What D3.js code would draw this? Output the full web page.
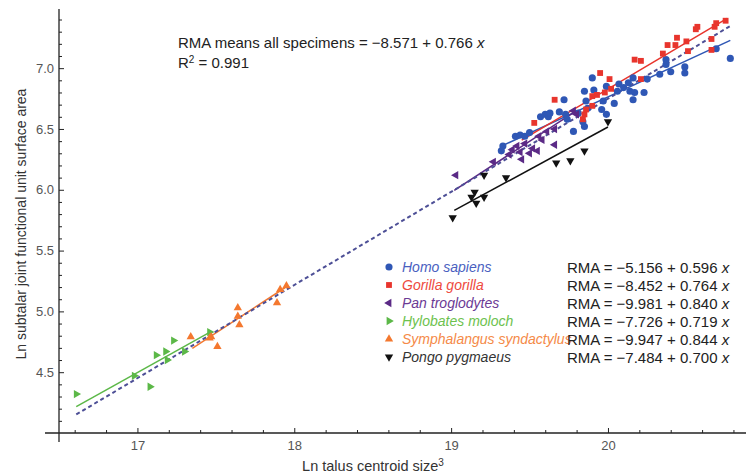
<!DOCTYPE html>
<html>
<head>
<meta charset="utf-8">
<script src="https://cdn.jsdelivr.net/npm/d3@7"></script>
<style>
  body { margin: 0; background: #fff; }
  text { font-family: Arial, "Liberation Sans", sans-serif; }
</style>
</head>
<body>
<div id="chart"></div>
<script>
// species data: [ln talus centroid size^3, ln subtalar surface area]
var homoPts = [
  [19.32,6.32],[19.33,6.36],[19.41,6.44],[19.44,6.45],[19.47,6.44],[19.50,6.47],
  [19.57,6.60],[19.60,6.62],[19.62,6.60],[19.63,6.63],[19.69,6.64],[19.72,6.74],
  [19.73,6.62],[19.74,6.58],[19.78,6.48],[19.81,6.63],[19.84,6.56],[19.85,6.52],
  [19.85,6.81],[19.86,6.73],[19.87,6.67],[19.90,6.92],[19.91,6.82],[19.96,6.66],
  [19.97,6.73],[19.99,6.85],[19.99,6.62],[20.04,6.71],[20.06,6.81],[20.07,6.87],
  [20.10,6.84],[20.13,6.88],[20.16,6.92],[20.14,6.81],[20.17,6.80],[20.16,6.74],
  [20.23,6.80],[20.25,6.91],[20.33,6.95],[20.37,7.07],[20.37,7.03],[20.40,6.97],
  [20.49,7.01],[20.49,6.96],[20.69,7.16],[20.78,7.08]
];
var gorillaPts = [
  [19.53,6.55],[19.66,6.74],[19.84,6.58],[19.85,6.62],[19.86,6.66],[19.90,6.69],
  [19.90,6.77],[19.93,6.78],[19.95,6.96],[19.98,6.80],[20.01,6.91],[20.02,6.83],
  [20.17,7.07],[20.21,7.06],[20.21,6.91],[20.35,7.12],[20.38,7.19],[20.43,7.19],
  [20.44,7.25],[20.50,7.22],[20.51,7.14],[20.56,7.32],[20.57,7.34],[20.66,7.24],
  [20.66,7.15],[20.68,7.34],[20.69,7.37],[20.75,7.39]
];
var panPts = [
  [19.03,6.12],[19.27,6.23],[19.37,6.29],[19.39,6.33],[19.42,6.36],[19.44,6.31],
  [19.45,6.25],[19.47,6.38],[19.50,6.30],[19.52,6.34],[19.55,6.32],[19.56,6.44],
  [19.58,6.41],[19.61,6.48],[19.66,6.50],[19.66,6.37],[19.78,6.65],[19.80,6.62]
];
var hylobatesPts = [
  [16.61,4.32],[16.98,4.47],[17.08,4.38],[17.12,4.64],[17.18,4.67],[17.19,4.60],
  [17.23,4.76],[17.30,4.67],[17.46,4.83]
];
var symphPts = [
  [17.34,4.79],[17.46,4.78],[17.47,4.79],[17.51,4.71],[17.64,5.03],[17.64,4.96],
  [17.65,4.89],[17.89,5.07],[17.91,5.18],[17.95,5.21]
];
var pongoPts = [
  [19.01,5.77],[19.13,5.94],[19.15,5.98],[19.16,5.89],[19.21,5.94],[19.21,6.12],
  [19.35,6.10],[19.67,6.22],[19.76,6.24],[19.85,6.32],[20.00,6.56]
];

var speciesNames = ["Homo sapiens","Gorilla gorilla","Pan troglodytes","Hylobates moloch","Symphalangus syndactylus","Pongo pygmaeus"];
// RMA fits: intercept, slope, x range
var rmaIntercept = [-5.156, -8.452, -9.981, -7.726, -9.947, -7.484];
var rmaSlope = [0.596, 0.764, 0.840, 0.719, 0.844, 0.700];
var rmaRange = [[19.32,20.78],[19.45,20.76],[19.02,19.8],[16.61,17.46],[17.35,17.94],[19.02,20.0]];
var allFit = {a: -8.571, b: 0.766, range: [16.61, 20.78]};
var r2 = "0.991";

var xMajor = [17, 18, 19, 20];
var yMajor = [4.5, 5.0, 5.5, 6.0, 6.5, 7.0];

var series = [homoPts, gorillaPts, panPts, hylobatesPts, symphPts, pongoPts];
var colors = ["#2f57b5", "#e8352d", "#5b2a86", "#5cb848", "#f4782f", "#111111"];
var labelColors = ["#4a5fbf", "#ee4a3e", "#6b3a95", "#6dc24e", "#f58a48", "#333333"];
var symbols = [d3.symbolCircle, d3.symbolSquare, d3.symbolTriangle, d3.symbolTriangle, d3.symbolTriangle, d3.symbolTriangle];
var rotations = [0, 0, -90, 90, 0, 180];
var symSizes = [40, 34, 30, 30, 30, 30];

var W = 746, H = 475;
var svg = d3.select("#chart").append("svg").attr("width", W).attr("height", H);

var x = d3.scaleLinear().domain([16.5, 20.88]).range([59, 746]);
var y = d3.scaleLinear().domain([4.0, 7.47]).range([433, 11]);

// axes
var xMinor = d3.range(16.6, 20.85, 0.2).filter(function(v){ return Math.abs(v - Math.round(v)) > 0.01; });
var yMinor = d3.range(4.1, 7.45, 0.1).filter(function(v){ return Math.abs(v*2 - Math.round(v*2)) > 0.01; });

var xAxisG = svg.append("g").attr("transform", "translate(0," + y(4.0) + ")");
xAxisG.call(d3.axisBottom(x).tickValues(xMajor).tickSize(-5).tickPadding(8).tickFormat(d3.format("d")));
xAxisG.append("g").call(d3.axisBottom(x).tickValues(xMinor).tickSize(-3).tickFormat(""));

var yAxisG = svg.append("g").attr("transform", "translate(" + x(16.5) + ",0)");
yAxisG.call(d3.axisLeft(y).tickValues(yMajor).tickSize(-5).tickPadding(5).tickFormat(d3.format(".1f")));
yAxisG.append("g").call(d3.axisLeft(y).tickValues(yMinor).tickSize(-3).tickFormat(""));

svg.selectAll(".domain").remove();
svg.selectAll(".tick line").attr("stroke", "#222").attr("stroke-width", 1);
svg.selectAll(".tick text").attr("fill", "#555").attr("font-size", 13).attr("font-family", "Arial, sans-serif");

svg.append("line").attr("x1", 45).attr("x2", 746).attr("y1", y(4.0)).attr("y2", y(4.0))
  .attr("stroke", "#222").attr("stroke-width", 1.3);
svg.append("line").attr("x1", x(16.5)).attr("x2", x(16.5)).attr("y1", 9).attr("y2", 442)
  .attr("stroke", "#222").attr("stroke-width", 1.3);

// axis labels
svg.append("text").attr("x", 373).attr("y", 471).attr("text-anchor", "middle")
  .attr("font-size", 14.5).attr("fill", "#333")
  .html("Ln talus centroid size<tspan dy='-5' font-size='10'>3</tspan>");
svg.append("text").attr("transform", "translate(26,224) rotate(-90)").attr("text-anchor", "middle")
  .attr("font-size", 14).attr("fill", "#333")
  .text("Ln subtalar joint functional unit surface area");

// fitted lines
var line = d3.line().x(function(d){ return x(d[0]); }).y(function(d){ return y(d[1]); });

series.forEach(function(s, i){
  var r = rmaRange[i];
  var pts = r.map(function(v){ return [v, rmaIntercept[i] + rmaSlope[i] * v]; });
  svg.append("path").datum(pts).attr("d", line).attr("fill", "none")
    .attr("stroke", colors[i]).attr("stroke-width", 1.5);
});

var allPts = allFit.range.map(function(v){ return [v, allFit.a + allFit.b * v]; });
svg.append("path").datum(allPts).attr("d", line).attr("fill", "none")
  .attr("stroke", "#4d4f96").attr("stroke-width", 2).attr("stroke-dasharray", "4,3");

// points
series.forEach(function(s, i){
  var sym = d3.symbol().type(symbols[i]).size(symSizes[i]);
  svg.append("g").selectAll("path").data(s).enter().append("path")
    .attr("d", sym)
    .attr("fill", colors[i])
    .attr("transform", function(d){ return "translate(" + x(d[0]) + "," + y(d[1]) + ") rotate(" + rotations[i] + ")"; });
});

// annotation
svg.append("text").attr("x", 178).attr("y", 48).attr("font-size", 15).attr("fill", "#222")
  .html("RMA means all specimens = \u22128.571 + 0.766 <tspan font-style='italic'>x</tspan>");
svg.append("text").attr("x", 178).attr("y", 68).attr("font-size", 15).attr("fill", "#222")
  .html("R<tspan dy='-5' font-size='10'>2</tspan><tspan dy='5'> = " + r2 + "</tspan>");

// legend
var legend = svg.append("g");
speciesNames.forEach(function(name, i){
  var ly = 267 + i * 18;
  var sym = d3.symbol().type(symbols[i]).size(symSizes[i]);
  legend.append("path").attr("d", sym).attr("fill", colors[i])
    .attr("transform", "translate(389," + ly + ") rotate(" + rotations[i] + ")");
  legend.append("text").attr("x", 402).attr("y", ly + 5).attr("font-size", 14)
    .attr("font-style", "italic").attr("fill", labelColors[i]).text(name);
  var a = rmaIntercept[i], b = rmaSlope[i];
  legend.append("text").attr("x", 567).attr("y", ly + 5.5).attr("font-size", 15).attr("fill", "#222")
    .html("RMA = " + (a < 0 ? "\u2212" : "") + Math.abs(a).toFixed(3) + " + " + b.toFixed(3) + " <tspan font-style='italic'>x</tspan>");
});
</script>
</body>
</html>
